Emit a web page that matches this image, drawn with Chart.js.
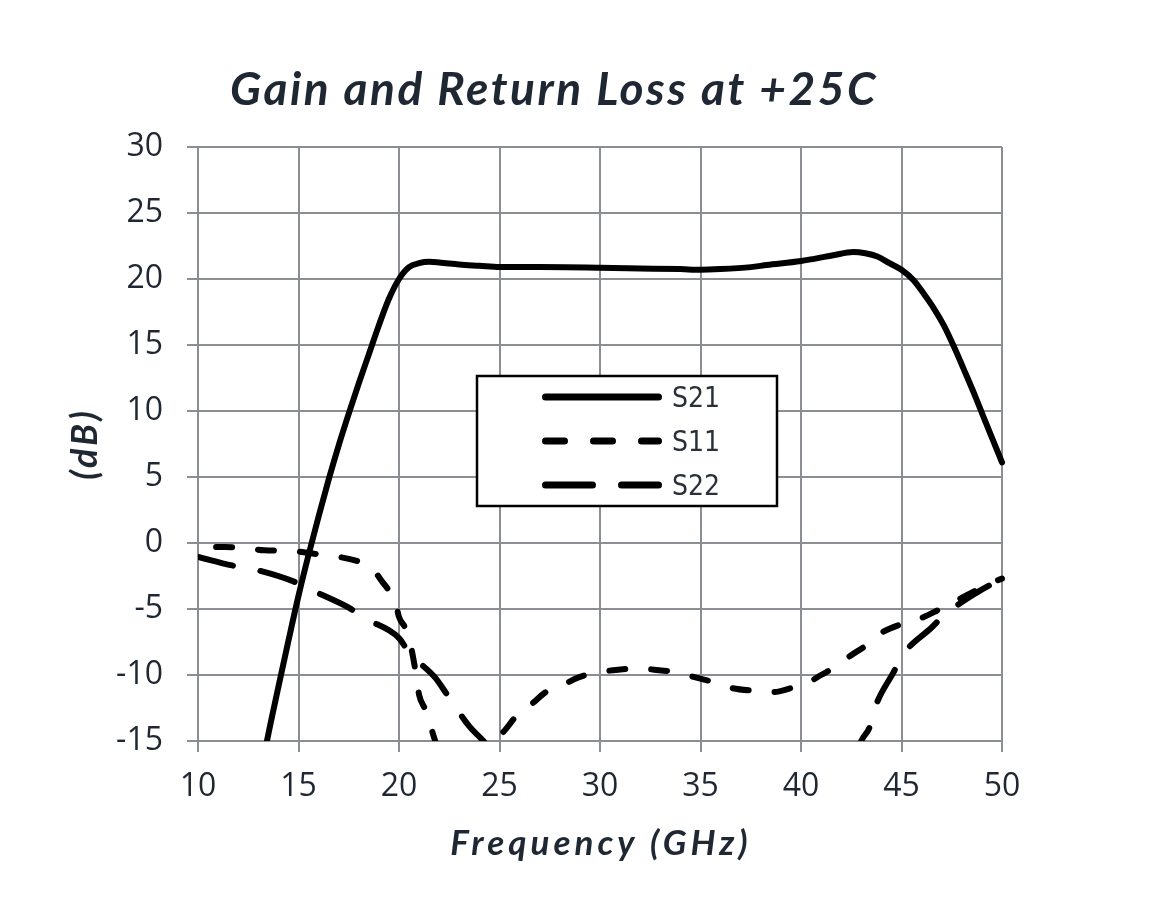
<!DOCTYPE html>
<html><head><meta charset="utf-8">
<script src="https://cdn.jsdelivr.net/npm/chart.js@4"></script>
<style>html,body{margin:0;padding:0;background:#fff;}#wrap{width:1155px;height:924px;position:relative;}</style>
</head><body>
<div id="wrap"><canvas id="c" width="1155" height="924"></canvas></div>
<script>
const chartTitle = 'Gain and Return Loss at +25C';
const xTitle = 'Frequency (GHz)';
const yTitle = '(dB)';
const seriesNames = ['S21', 'S11', 'S22'];
const xTicks = [10, 15, 20, 25, 30, 35, 40, 45, 50];
const yTicks = [-15, -10, -5, 0, 5, 10, 15, 20, 25, 30];

const s21Freq = [13.0,13.43,14.0,14.5,15.0,15.5,16.0,16.5,17.0,17.5,18.0,18.5,19.0,19.5,20.0,20.5,21.0,21.5,22.0,23.0,24.0,25.0,27.0,30.0,32.0,34.0,35.0,36.0,37.5,38.3,40.0,41.6,42.6,43.2,43.8,44.4,45.0,45.6,46.1,46.6,47.1,47.6,48.2,48.7,49.2,49.6,50.0];
const s21Db   = [-18.5,-15.0,-10.9,-7.4,-4.0,-0.9,2.0,4.8,7.4,9.8,12.1,14.3,16.5,18.5,20.0,20.9,21.2,21.3,21.25,21.1,21.0,20.9,20.9,20.85,20.8,20.75,20.7,20.75,20.9,21.06,21.36,21.8,22.05,21.95,21.7,21.2,20.7,19.9,18.9,17.8,16.5,14.9,12.8,11.0,9.1,7.6,6.1];

const s11Freq = [10.9,12.2,13.3,14.6,15.7,16.8,17.9,18.3,18.7,19.2,19.5,19.8,20.0,20.3,20.5,20.8,21.0,21.3,21.5,21.8,22.3,23.2,24.2,24.7,25.2,25.9,26.6,27.3,28.1,28.9,29.9,30.9,31.9,32.7,33.8,34.8,35.8,36.6,37.7,38.6,39.5,40.2,41.0,41.8,42.5,43.2,43.9,44.9,45.8,46.8,47.7,48.7,49.5,50.0];
const s11Db   = [-0.3,-0.35,-0.55,-0.6,-0.8,-1.0,-1.35,-1.6,-2.0,-3.0,-3.6,-4.3,-5.6,-6.4,-7.2,-9.5,-11.5,-12.6,-13.5,-15.0,-17.0,-18.0,-16.5,-15.0,-14.3,-13.0,-12.2,-11.3,-10.8,-10.2,-9.8,-9.6,-9.5,-9.6,-9.8,-10.2,-10.6,-11.0,-11.2,-11.3,-11.0,-10.7,-10.0,-9.3,-8.5,-7.8,-6.9,-6.2,-5.8,-5.1,-4.4,-3.6,-3.0,-2.7];

const s22Freq = [10.0,11.7,12.8,14.9,15.7,17.5,18.3,20.0,20.5,21.8,22.4,23.5,24.2,25.0,34.0,42.7,43.0,43.4,43.7,44.6,45.1,46.5,47.1,48.7,50.0];
const s22Db   = [-1.05,-1.7,-2.0,-3.0,-3.6,-4.9,-5.7,-7.2,-8.3,-10.2,-11.5,-13.9,-15.0,-16.5,null,-16.5,-15.0,-14.0,-12.4,-9.8,-8.4,-6.4,-5.5,-3.8,-2.7];

const toPoints = (fs, vs) => fs.map((f, i) => ({x: f, y: vs[i]}));

const textColor = '#1f2733';
const gridColor = '#8b8e93';
const L_PAD = 40, TOP = 147, RIGHT_PAD = 153, BOT_PAD = 30;
const AREA_LEFT = 198, AREA_BOTTOM = 741;

const legendDash = [[], [19, 29], [47, 29]];

function spaced(ctx, px) {
  if ('letterSpacing' in ctx) ctx.letterSpacing = px + 'px';
}

const overlayPlugin = {
  id: 'overlay',
  afterDraw(chart) {
    const ctx = chart.ctx;
    const area = chart.chartArea;
    ctx.save();
    ctx.fillStyle = textColor;
    // chart title
    ctx.font = 'italic bold 46px Lato, "Open Sans", sans-serif';
    spaced(ctx, 2.5);
    ctx.textAlign = 'center';
    ctx.textBaseline = 'alphabetic';
    ctx.fillText(chartTitle, 554, 105);
    // x axis title
    ctx.font = 'italic bold 35px Lato, "Open Sans", sans-serif';
    spaced(ctx, 4);
    ctx.fillText(xTitle, (area.left + area.right) / 2 + 1, 855);
    // y axis title
    ctx.save();
    ctx.translate(85, (area.top + area.bottom) / 2);
    ctx.rotate(-Math.PI / 2);
    ctx.font = 'italic bold 36px Lato, "Open Sans", sans-serif';
    spaced(ctx, 3);
    ctx.textBaseline = 'middle';
    ctx.fillText(yTitle, 0, 0);
    ctx.restore();
    spaced(ctx, 0);
    // legend box
    const bx = 477, by = 376, bw = 300, bh = 130;
    ctx.fillStyle = '#ffffff';
    ctx.fillRect(bx, by, bw, bh);
    ctx.lineWidth = 2.5;
    ctx.strokeStyle = '#000';
    ctx.setLineDash([]);
    ctx.strokeRect(bx, by, bw, bh);
    const rowsY = [397, 441, 485];
    const baseY = [407, 451, 495];
    chart.data.datasets.forEach((ds, i) => {
      ctx.beginPath();
      ctx.lineWidth = 7;
      ctx.lineCap = 'round';
      ctx.strokeStyle = ds.borderColor;
      ctx.setLineDash(legendDash[i]);
      ctx.moveTo(545.5, rowsY[i]);
      ctx.lineTo(658.5, rowsY[i]);
      ctx.stroke();
      ctx.setLineDash([]);
      ctx.fillStyle = '#2a2f38';
      ctx.font = '28px "Liberation Sans Narrow", "DejaVu Sans Condensed", sans-serif';
      ctx.textAlign = 'left';
      ctx.textBaseline = 'alphabetic';
      ctx.fillText(ds.label, 672, baseY[i]);
    });
    ctx.restore();
  }
};

const common = {
  pointRadius: 0,
  pointHoverRadius: 0,
  borderWidth: 6,
  borderColor: '#000000',
  backgroundColor: '#000000',
  borderCapStyle: 'round',
  borderJoinStyle: 'round',
  fill: false,
  cubicInterpolationMode: 'monotone',
  spanGaps: false,
  clip: {left: 0, top: 0, right: 4, bottom: 0}
};

new Chart(document.getElementById('c'), {
  type: 'line',
  data: {
    datasets: [
      Object.assign({label: seriesNames[0], data: toPoints(s21Freq, s21Db), borderDash: []}, common),
      Object.assign({label: seriesNames[1], data: toPoints(s11Freq, s11Db), borderDash: [16, 26]}, common),
      Object.assign({label: seriesNames[2], data: toPoints(s22Freq, s22Db), borderDash: [36, 28]}, common)
    ]
  },
  options: {
    responsive: false,
    animation: false,
    devicePixelRatio: 1,
    layout: {padding: {left: L_PAD, top: TOP, right: RIGHT_PAD, bottom: BOT_PAD}},
    plugins: {legend: {display: false}, title: {display: false}, tooltip: {enabled: false}},
    scales: {
      x: {
        type: 'linear',
        min: xTicks[0], max: xTicks[xTicks.length - 1],
        afterBuildTicks: s => { s.ticks = xTicks.map(v => ({value: v})); },
        afterFit: s => { s.height = 924 - BOT_PAD - AREA_BOTTOM; },
        grid: {color: gridColor, lineWidth: 2, tickLength: 11, tickColor: gridColor},
        border: {color: gridColor, width: 2},
        ticks: {color: textColor, padding: 16, font: {family: '"Open Sans", "Noto Sans", sans-serif', size: 32}, maxRotation: 0},
        title: {display: false, text: xTitle}
      },
      y: {
        type: 'linear',
        min: yTicks[0], max: yTicks[yTicks.length - 1],
        afterBuildTicks: s => { s.ticks = yTicks.map(v => ({value: v})); },
        afterFit: s => { s.width = AREA_LEFT - L_PAD; },
        grid: {color: gridColor, lineWidth: 2, tickLength: 11, tickColor: gridColor},
        border: {color: gridColor, width: 2},
        ticks: {color: textColor, padding: 24, font: {family: '"Open Sans", "Noto Sans", sans-serif', size: 32}},
        title: {display: false, text: yTitle}
      }
    }
  },
  plugins: [overlayPlugin]
});
</script>
</body></html>
